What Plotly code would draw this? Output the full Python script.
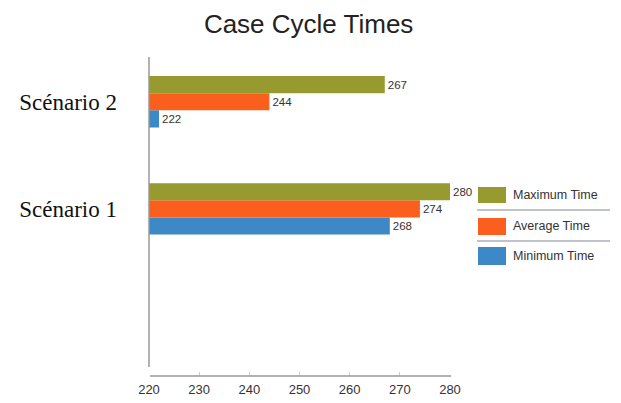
import plotly.graph_objects as go

categories = ["Scénario 1", "Scénario 2"]
minimum_time = [268, 222]
average_time = [274, 244]
maximum_time = [280, 267]
series_names = ["Minimum Time", "Average Time", "Maximum Time"]
series_colors = ["#3D88C6", "#FA5F1E", "#979A2F"]
x_ticks = [220, 230, 240, 250, 260, 270, 280]

fig = go.Figure()
for name, vals, col in zip(series_names, [minimum_time, average_time, maximum_time], series_colors):
    fig.add_trace(go.Bar(
        y=categories, x=vals, orientation="h", name=name,
        marker=dict(color=col, line=dict(width=0)),
        text=[str(v) for v in vals], textposition="outside",
        textfont=dict(family="Liberation Sans, Arial", size=11.5, color="#333333"),
        cliponaxis=False, showlegend=False,
    ))

fig.update_layout(
    width=621, height=403,
    margin=dict(l=149, r=171, t=60, b=27, autoexpand=False),
    paper_bgcolor="white", plot_bgcolor="white",
    barmode="group", bargap=0.52, bargroupgap=0,
    title=dict(text="Case Cycle Times", x=0.497, xanchor="center", y=0.94, yanchor="middle",
               font=dict(family="Liberation Sans, Arial", size=26, color="#222222")),
    xaxis=dict(range=[220, 280], tickvals=x_ticks, showgrid=False, zeroline=False,
               showline=False, automargin=False,
               ticks="inside", ticklen=4, tickcolor="#cccccc", ticklabelstandoff=4,
               tickfont=dict(family="Liberation Sans, Arial", size=13, color="#333333"),
               fixedrange=True),
    yaxis=dict(type="category", categoryorder="array", categoryarray=categories,
               range=[-1.56, 1.39], showgrid=False, zeroline=False,
               showline=False, automargin=False,
               ticks="", ticklabelstandoff=31,
               tickfont=dict(family="Liberation Serif, Times New Roman", size=23, color="#111111")),
)

def px_x(px):
    return (px - 149) / 301.0

def px_y(py):
    return (376 - py) / 316.0

# axis lines (the vertical one stops short of the x axis, as in the reference)
fig.add_shape(type="line", xref="paper", yref="paper",
              x0=0, x1=0, y0=px_y(367), y1=px_y(57),
              line=dict(color="#999999", width=1.5))
fig.add_shape(type="line", xref="paper", yref="paper",
              x0=px_x(150), x1=px_x(451), y0=0, y1=0,
              line=dict(color="#999999", width=1.5))

# Custom legend (boxes with separator lines)
legend_rows = [("Maximum Time", series_colors[2], 187, 203),
               ("Average Time", series_colors[1], 218, 235),
               ("Minimum Time", series_colors[0], 247, 265)]
for label, col, y0, y1 in legend_rows:
    fig.add_shape(type="rect", xref="paper", yref="paper",
                  x0=px_x(478), x1=px_x(506), y0=px_y(y1), y1=px_y(y0),
                  fillcolor=col, line=dict(width=0))
    fig.add_annotation(xref="paper", yref="paper", x=px_x(511), y=px_y((y0 + y1) / 2),
                       text=label, showarrow=False, xanchor="left", yanchor="middle",
                       font=dict(family="Liberation Sans, Arial", size=12.5, color="#333333"))
for ly in [210, 241]:
    fig.add_shape(type="line", xref="paper", yref="paper",
                  x0=px_x(477), x1=px_x(610), y0=px_y(ly), y1=px_y(ly),
                  line=dict(color="#aab0b8", width=1.5))

fig.write_html("out.html", config={"displayModeBar": False},
               post_script="document.body.style.margin='0px';")
